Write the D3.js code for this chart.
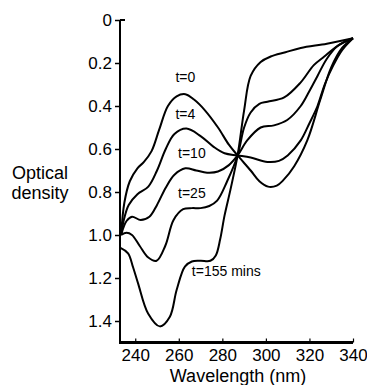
<!DOCTYPE html>
<html>
<head>
<meta charset="utf-8">
<script src="https://cdn.jsdelivr.net/npm/d3@7"></script>
<style>
  body { margin: 0; background: #fff; }
  text { font-family: "Liberation Sans", Arial, sans-serif; fill: #000; }
</style>
</head>
<body>
<div id="chart"></div>
<script>
// tick labels
var xTicks = [240, 260, 280, 300, 320, 340];
var yTicks = [0, 0.2, 0.4, 0.6, 0.8, 1.0, 1.2, 1.4];

// spectra: [wavelength nm, optical density]
var t0 = [[233.5,1.0],[235,0.85],[237.5,0.75],[241,0.69],[244,0.66],[247.5,0.61],[251,0.51],[255,0.40],
  [259,0.355],[263,0.345],[267,0.37],[272,0.42],[278,0.50],[283,0.58],[287,0.63],[293,0.70],[297,0.75],
  [301,0.775],[305,0.77],[308,0.745],[313,0.68],[319,0.56],[325,0.37],[330,0.22],[335,0.13],[340,0.085]];
var t4 = [[233.5,1.0],[235,0.92],[237,0.86],[241,0.81],[246,0.775],[250,0.70],[254,0.60],[258,0.53],
  [263.5,0.505],[270,0.54],[276,0.59],[281,0.62],[287,0.63],[293,0.64],[300.7,0.66],[306,0.655],
  [310,0.63],[316,0.56],[320,0.48],[323.7,0.40],[327,0.30],[331,0.21],[335,0.14],[340,0.085]];
var t10 = [[233.5,1.0],[236,0.935],[238.5,0.915],[242.5,0.93],[246.5,0.915],[250,0.86],[254,0.78],
  [258,0.72],[263,0.69],[268,0.70],[273,0.71],[278,0.705],[283,0.675],[287,0.63],[291.4,0.56],
  [297.6,0.50],[303.7,0.49],[309.8,0.465],[316,0.40],[320,0.33],[323.7,0.26],[328,0.18],[333,0.12],[340,0.085]];
var t25 = [[233.5,1.0],[236,0.99],[238.5,1.0],[242,1.05],[246,1.105],[249.8,1.12],[253.8,1.05],
  [257.6,0.93],[262,0.88],[266,0.875],[270,0.875],[274,0.865],[277.6,0.84],[282.2,0.75],[287,0.63],
  [290,0.50],[293,0.43],[297,0.39],[300.7,0.38],[308.4,0.36],[316,0.29],[322,0.21],[326.8,0.17],[333,0.12],[340,0.085]];
var t155 = [[233.2,1.06],[236.7,1.085],[239,1.15],[241.3,1.225],[245.9,1.365],[251.3,1.425],[255.9,1.38],
  [259,1.256],[262.8,1.147],[266,1.123],[270,1.12],[274.5,1.12],[277,1.095],[279,1.02],[281,0.91],
  [283.7,0.79],[287,0.63],[290,0.42],[293,0.26],[297.6,0.195],[302.2,0.17],[309,0.15],[316,0.13],[328,0.11],[340,0.085]];

var seriesList = [t0, t4, t10, t25, t155];
var seriesLabels = ["t=0", "t=4", "t=10", "t=25", "t=155 mins"];
var labelSpots = [[263, 0.29], [263, 0.46], [266, 0.64], [266, 0.83], [266, 1.19]];

drawChart();
function drawChart(){
    var width = 367, height = 385;
    var svg = d3.select("#chart")
        .append("svg")
        .attr("width", width)
        .attr("height", height);

    var x = d3.scaleLinear().domain([233, 340]).range([120, 353]);
    var y = d3.scaleLinear().domain([0, 1.5]).range([20, 342.5]);

    // left axis
    var yAxis = svg.append("g")
        .attr("transform", "translate(120,0)")
        .call(d3.axisLeft(y).tickValues(yTicks).tickSize(5).tickPadding(3)
            .tickFormat(function(d){ return d === 0 ? "0" : d3.format(".1f")(d); }));
    yAxis.select(".domain").remove();
    yAxis.selectAll(".tick line").attr("stroke-width", 1.5);
    yAxis.selectAll(".tick text").attr("font-size", 17).attr("font-family", "Liberation Sans, Arial, sans-serif");
    svg.append("line")
        .attr("x1", 120).attr("x2", 120)
        .attr("y1", y(0)).attr("y2", y(1.5) + 1.5)
        .attr("stroke", "#000").attr("stroke-width", 2);
    // small right-hand tick at the top
    svg.append("line")
        .attr("x1", 120).attr("x2", 125)
        .attr("y1", y(0)).attr("y2", y(0))
        .attr("stroke", "#000").attr("stroke-width", 2);

    // bottom axis
    var xAxis = svg.append("g")
        .attr("transform", "translate(0," + y(1.5) + ")")
        .call(d3.axisBottom(x).tickValues(xTicks).tickSize(-4).tickPadding(6));
    xAxis.select(".domain").remove();
    xAxis.selectAll(".tick line").attr("stroke-width", 1.2);
    xAxis.selectAll(".tick text").attr("font-size", 17).attr("font-family", "Liberation Sans, Arial, sans-serif");
    svg.append("line")
        .attr("x1", 119).attr("x2", x(340))
        .attr("y1", y(1.5)).attr("y2", y(1.5))
        .attr("stroke", "#000").attr("stroke-width", 3);

    // axis titles
    svg.append("text").attr("x", 40).attr("y", 179)
        .attr("text-anchor", "middle").attr("font-size", 18).text("Optical");
    svg.append("text").attr("x", 40).attr("y", 199)
        .attr("text-anchor", "middle").attr("font-size", 18).text("density");
    svg.append("text").attr("x", 238).attr("y", 382)
        .attr("text-anchor", "middle").attr("font-size", 18).text("Wavelength (nm)");

    // spectra
    var line = d3.line()
        .x(function(d){ return x(d[0]); })
        .y(function(d){ return y(d[1]); })
        .curve(d3.curveCatmullRom.alpha(0.5));

    svg.append("g")
        .selectAll("path")
        .data(seriesList)
        .enter()
        .append("path")
        .attr("d", line)
        .attr("fill", "none")
        .attr("stroke", "#000")
        .attr("stroke-width", 2);

    svg.append("g")
        .selectAll("text")
        .data(seriesLabels)
        .enter()
        .append("text")
        .attr("x", function(d, i){ return x(labelSpots[i][0]); })
        .attr("y", function(d, i){ return y(labelSpots[i][1]); })
        .attr("text-anchor", function(d, i){ return i === 4 ? "start" : "middle"; })
        .attr("font-size", 14)
        .text(function(d){ return d; });
}
</script>
</body>
</html>
